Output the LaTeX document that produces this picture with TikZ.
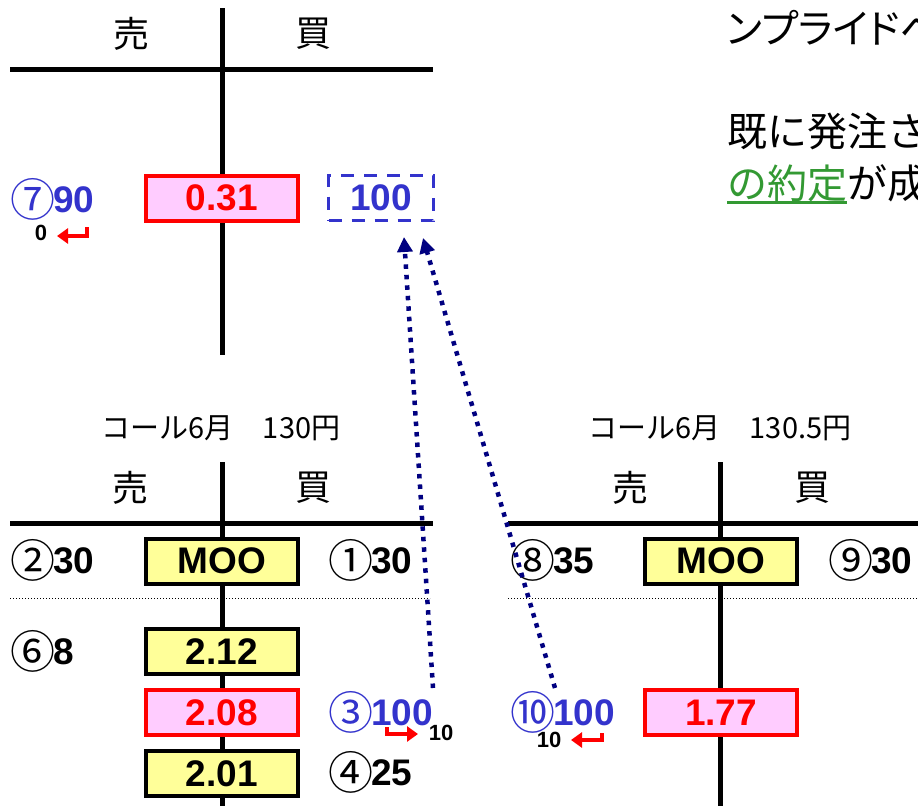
\documentclass[tikz,border=0pt]{standalone}
\usepackage{fontspec}
\setmainfont{Liberation Sans}
\newfontfamily\jpfont{Noto Sans CJK JP}
\newfontfamily\jppfont[RawFeature=+palt]{Noto Sans CJK JP}
\usetikzlibrary{arrows.meta,chains,positioning,scopes}
\definecolor{qblue}{RGB}{51,51,204}
\definecolor{hitpink}{RGB}{255,204,255}
\definecolor{ordyellow}{RGB}{255,255,153}
\definecolor{linknavy}{RGB}{0,0,128}
\definecolor{okgreen}{RGB}{51,153,51}
\newcommand\cnum[1]{{\jpfont\mdseries\fontsize{45}{45}\selectfont\kern-5pt\raisebox{-4pt}{#1}\kern-2pt}}
\tikzset{
    tline/.style = {
        line width=5pt,
        },
    sepline/.style = {
        dotted,
        line width=1pt,
        },
    order box/.style = {
        draw,
        line width=4pt,
        fill = ordyellow,
        minimum width=152pt,
        minimum height=45pt,
        inner sep=0pt,
        font=\bfseries\fontsize{37}{37}\selectfont,
        },
    hit box/.style = {
        order box,
        draw = red,
        fill = hitpink,
        text = red,
        },
    iv box/.style = {
        draw = qblue,
        line width=3pt,
        dash pattern=on 13pt off 10pt,
        minimum width=105pt,
        minimum height=45pt,
        inner sep=0pt,
        text = qblue,
        font=\bfseries\fontsize{37}{37}\selectfont,
        },
    side label/.style = {
        inner sep=0pt,
        font=\jpfont\fontsize{36}{36}\selectfont,
        },
    head label/.style = {
        inner sep=0pt,
        font=\jpfont\fontsize{29}{29}\selectfont,
        },
    memo/.style = {
        inner sep=0pt,
        font=\jpfont\fontsize{40}{40}\selectfont,
        },
    qty/.style = {
        anchor=west,
        inner sep=0pt,
        font=\bfseries\fontsize{37}{37}\selectfont,
        },
    small qty/.style = {
        inner sep=0pt,
        font=\bfseries\fontsize{22}{22}\selectfont,
        },
    ret arrow/.style = {
        red,
        line width=4pt,
        -{Triangle[length=11pt,width=15pt]},
        },
    iv link/.style = {
        linknavy,
        line width=4.5pt,
        dash pattern=on 4.5pt off 6pt,
        -{Triangle[length=15pt,width=15pt]},
        },
}
\begin{document}
\begin{tikzpicture}[x=1pt,y=-1pt]
\useasboundingbox (0,0) rectangle (918,806);
\clip (0,0) rectangle (918,806);

% top chart
\draw[tline] (222,8) -- (222,355);
\draw[tline] (10,69) -- (433,69);
\node[side label] (s0) at (131,34) {売};
\node[side label] (b0) at (313,34) {買};
\node[hit box] (p031) at (222,198) {0.31};
\node[iv box] (iv) at (381,198) {100};
\node[qty, text=qblue] (q7) at (15,199) {\cnum{⑦}90};
\node[small qty] (z7) at (41,233) {0};
\draw[ret arrow] (87,227) -- (87,236) -- (57,236);

% call 130
\node[head label] (h130) at (221,428) {コール6月　130円};
\draw[tline] (222,462) -- (222,806);
\draw[tline] (10,523) -- (433,523);
\node[side label] (s1) at (130,488) {売};
\node[side label] (b1) at (313,488) {買};
\draw[sepline] (10,598) -- (430,598);
\node[order box] (moo1) at (222,561) {MOO};
\node[qty] (q2) at (15,560) {\cnum{②}30};
\node[qty] (q1) at (333,560) {\cnum{①}30};
\node[qty] (q6) at (15,651) {\cnum{⑥}8};
\node[order box] (b212) at (222,651.5) {2.12};
{ [start chain = going below, node distance = 12pt]
\chainin (b212);
\node[hit box, on chain] (b208) {2.08};
\node[order box, on chain] (b201) {2.01};
}
\node[qty, text=qblue] (q3) at (333,712.5) {\cnum{③}100};
\node[small qty] (t3) at (441,733) {10};
\draw[ret arrow] (387,727) -- (387,734) -- (418,734);
\node[qty] (q4) at (333,772) {\cnum{④}25};

% call 130.5
\node[head label] (h1305) at (720,428) {コール6月　130.5円};
\draw[tline] (720.5,462) -- (720.5,806);
\draw[tline] (508,523) -- (918,523);
\node[side label] (s2) at (630,488) {売};
\node[side label] (b2) at (812,488) {買};
\draw[sepline] (508,598) -- (918,598);
\node[order box] (moo2) at (721,561) {MOO};
\node[qty] (q8) at (515,560) {\cnum{⑧}35};
\node[qty] (q9) at (833,560) {\cnum{⑨}30};
\node[hit box] (p177) at (721,712.5) {1.77};
\node[qty, text=qblue] (q10) at (515,712.5) {\cnum{⑩}100};
\node[small qty] (t10) at (549,740) {10};
\draw[ret arrow] (602,733) -- (602,740) -- (571,740);

% links to the box
\coordinate (from3) at (433,688);
\coordinate (from10) at (555,688);
\draw[iv link] (from3) -- ([xshift=23pt,yshift=-15pt]iv.south);
\draw[iv link] (from10) -- ([xshift=42pt,yshift=-16pt]iv.south);

% note
\node[memo, font=\jppfont\fontsize{40}{40}\selectfont, anchor=west] (n1) at (727,28) {ンプライドベ};
\node[memo, anchor=west] (n2) at (727,131) {既に発注さ};
\node[memo, anchor=west, text=okgreen] (n3) at (727,183) {の約定};
\node[memo, right=0pt of n3] (n4) {が成};
\draw[okgreen, line width=2.5pt] ([yshift=-1pt]n3.south west) -- ([yshift=-1pt]n3.south east);
\end{tikzpicture}
\end{document}
